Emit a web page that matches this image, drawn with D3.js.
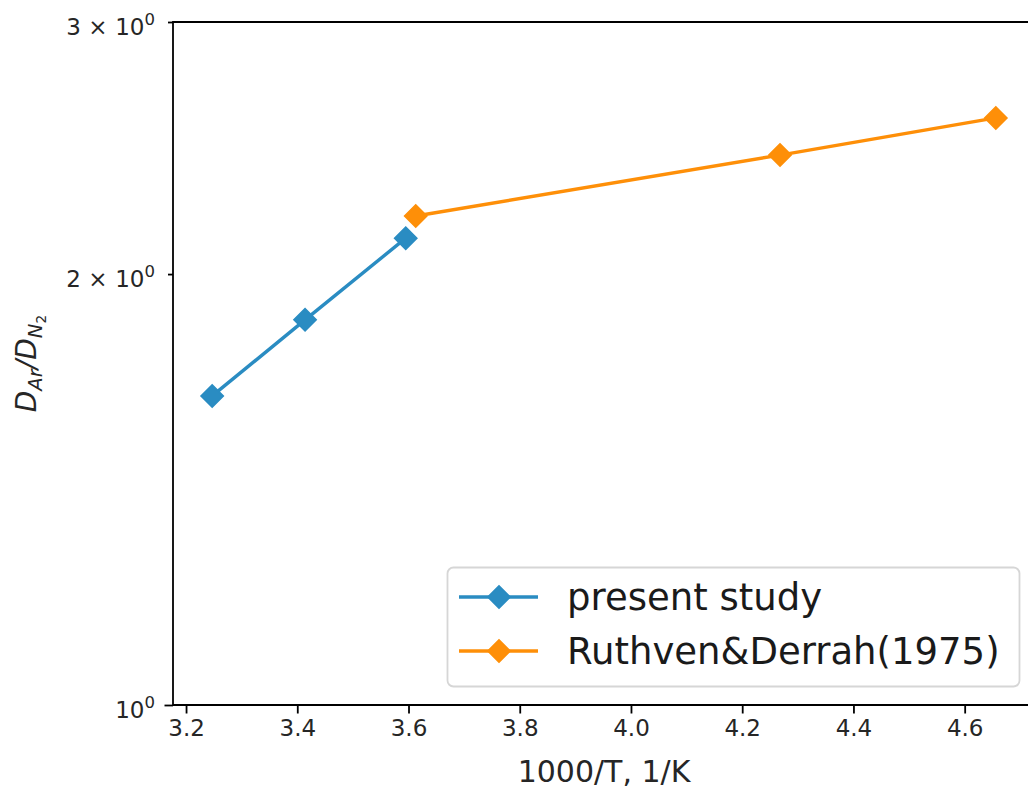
<!DOCTYPE html>
<html>
<head>
<meta charset="utf-8">
<script src="https://cdn.jsdelivr.net/npm/d3@7"></script>
<style>
  html, body { margin: 0; padding: 0; background: #fff; }
  svg { display: block; font-family: "DejaVu Sans", sans-serif; }
</style>
</head>
<body>
<svg id="chart" width="1028" height="791"></svg>
<script>
// Diffusivity ratio vs. inverse temperature
const presentX = [3.247, 3.414, 3.595];
const presentY = [1.644, 1.858, 2.119];
const ruthvenX = [3.613, 4.268, 4.656];
const ruthvenY = [2.196, 2.422, 2.571];
const seriesNames = ["present study", "Ruthven&Derrah(1975)"];
const seriesColors = ["#2a8cc2", "#fe8f08"];
const xTickValues = [3.2, 3.4, 3.6, 3.8, 4.0, 4.2, 4.4, 4.6];
const yTickValues = [1, 2, 3];
const yTickMantissa = ["", "2", "3"];
const xLabel = "1000/T, 1/K";

const svg = d3.select("#chart");
const plotL = 173, plotT = 22, plotR = 1035, plotB = 705;

const allX = presentX.concat(ruthvenX);
const xmin = d3.min(allX), xmax = d3.max(allX), pad = (xmax - xmin) * 0.05;
const x = d3.scaleLinear().domain([xmin - pad, xmax + pad]).range([plotL, plotR]);
const y = d3.scaleLog().domain([1, 3]).range([plotB, plotT]);

// x axis
const xAxis = svg.append("g").attr("transform", `translate(0,${plotB})`)
  .call(d3.axisBottom(x).tickValues(xTickValues).tickFormat(d3.format(".1f")).tickSizeOuter(0).tickSize(8.5).tickPadding(6));
xAxis.select(".domain").remove();
xAxis.selectAll("line").attr("stroke", "#000").attr("stroke-width", 1.8);
xAxis.selectAll("text").attr("font-size", 23).attr("fill", "#262626")
  .attr("font-family", "DejaVu Sans");

// y axis (log): 10^0 major, 2 and 3 minor labelled
const yAxis = svg.append("g").attr("transform", `translate(${plotL},0)`)
  .call(d3.axisLeft(y).tickValues(yTickValues).tickFormat(() => "").tickSizeOuter(0).tickSize(5));
yAxis.select(".domain").remove();
yAxis.selectAll("line").attr("stroke", "#000").attr("stroke-width", 1.8)
  .attr("x2", d => d === 1 ? -8.5 : -5);

yAxis.selectAll(".tick").each(function(d, i) {
  const g = d3.select(this);
  const t = g.append("text").attr("fill", "#262626").attr("font-size", 23)
    .attr("text-anchor", "end").attr("x", -18).attr("y", 12.5)
    .attr("font-family", "DejaVu Sans").attr("xml:space", "preserve");
  const m = yTickMantissa[i];
  if (m) t.append("tspan").text(m + "\u2004\u00d7\u200410");
  else t.append("tspan").text("10");
  t.append("tspan").attr("dy", -10).attr("font-size", 16.5).text("0");
});

// spines
svg.append("path")
  .attr("d", `M${plotL},${plotB}V${plotT}H${plotR}`)
  .attr("fill", "none").attr("stroke", "#000").attr("stroke-width", 1.8);
svg.append("line").attr("x1", plotL).attr("x2", plotR).attr("y1", plotB).attr("y2", plotB)
  .attr("stroke", "#000").attr("stroke-width", 1.8);

// axis labels
svg.append("text").attr("x", (plotL + plotR) / 2).attr("y", 782)
  .attr("text-anchor", "middle").attr("font-size", 30).attr("fill", "#262626")
  .text(xLabel);

const yl = svg.append("text")
  .attr("transform", `translate(36,${(plotT + plotB) / 2}) rotate(-90)`)
  .attr("text-anchor", "middle").attr("font-size", 28).attr("fill", "#262626")
  .attr("font-style", "italic");
yl.append("tspan").text("D");
yl.append("tspan").attr("font-size", 19.6).attr("dy", 6).text("Ar");
yl.append("tspan").attr("dy", -6).text("/D");
yl.append("tspan").attr("font-size", 19.6).attr("dy", 6).text("N");
yl.append("tspan").attr("font-size", 13.7).attr("font-style", "normal").attr("dy", 4).text("2");

// series
const diamond = d3.symbol().type(d3.symbolSquare).size(250);
const series = [
  { xs: presentX, ys: presentY, color: seriesColors[0] },
  { xs: ruthvenX, ys: ruthvenY, color: seriesColors[1] }
];
const line = d3.line().x(d => x(d[0])).y(d => y(d[1]));
series.forEach(s => {
  const pts = s.xs.map((v, i) => [v, s.ys[i]]);
  svg.append("path").datum(pts).attr("d", line)
    .attr("fill", "none").attr("stroke", s.color).attr("stroke-width", 3.4);
  svg.selectAll(null).data(pts).enter().append("path")
    .attr("d", diamond)
    .attr("transform", d => `translate(${x(d[0])},${y(d[1])}) rotate(45)`)
    .attr("fill", s.color).attr("stroke", s.color).attr("stroke-width", 1.5);
});

// legend
const lg = svg.append("g");
lg.append("rect").attr("x", 447.5).attr("y", 567.5).attr("width", 572).attr("height", 119)
  .attr("rx", 6).attr("fill", "#fff").attr("fill-opacity", 0.8)
  .attr("stroke", "#d6d6d6").attr("stroke-width", 1.8);
seriesNames.forEach((name, i) => {
  const cy = 597 + i * 54;
  lg.append("line").attr("x1", 459).attr("x2", 538).attr("y1", cy).attr("y2", cy)
    .attr("stroke", seriesColors[i]).attr("stroke-width", 3.4);
  lg.append("path").attr("d", diamond)
    .attr("transform", `translate(499,${cy}) rotate(45)`)
    .attr("fill", seriesColors[i]).attr("stroke", seriesColors[i]).attr("stroke-width", 1.5);
  lg.append("text").attr("x", 567).attr("y", cy + 13).attr("font-size", 37)
    .attr("fill", "#1a1a1a").text(name);
});
</script>
</body>
</html>
